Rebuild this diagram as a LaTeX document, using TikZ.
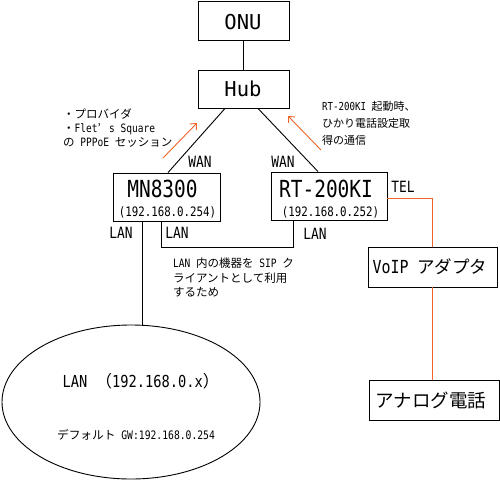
\documentclass[tikz,border=0pt]{standalone}
\usepackage{fontspec}
\setmainfont{Noto Sans CJK JP}
\newfontfamily\monoA{DejaVu Sans Mono}
\newfontfamily\monoB[FakeStretch=0.83]{DejaVu Sans Mono}
\usetikzlibrary{calc,arrows.meta,shapes.geometric}
\definecolor{orng}{RGB}{240,100,40}
\newcommand\m[1]{{\monoB #1}}
\begin{document}
\begin{tikzpicture}[x=1pt,y=-1pt,
  box/.style={draw, line width=0.9pt, inner sep=0pt},
  wire/.style={line width=0.9pt},
  owire/.style={draw=orng, line width=0.9pt},
  oarrow/.style={draw=orng, line width=0.9pt, -{Straight Barb[length=5pt,width=9pt]}},
  topt/.style={inner sep=0pt, font=\monoA\fontsize{20.5}{24}\selectfont},
  bigt/.style={inner sep=0pt, font=\monoB\fontsize{23.5}{26}\selectfont},
  ipt/.style={inner sep=0pt, font=\monoB\fontsize{13}{15}\selectfont},
  port/.style={inner sep=0pt, font=\monoB\fontsize{15.5}{18}\selectfont},
  midt/.style={inner sep=0pt, font=\fontsize{17.5}{20}\selectfont},
  smallt/.style={inner sep=0pt, align=left, font=\fontsize{11.5}{14.4}\selectfont}]
\path[use as bounding box] (0,0) rectangle (500,480);

% boxes
\node[box, minimum width=91pt, minimum height=39pt] (onu) at (243.5,21) {};
\node[topt] (onut) at (243,22) {ONU};
\node[box, minimum width=91pt, minimum height=38pt] (hub) at (243.5,89) {};
\node[topt] (hubt) at (243,88.5) {Hub};
\node[box, minimum width=107pt, minimum height=48pt] (mn) at (166.5,197) {};
\node[bigt] (mnt) at (162.5,188.5) {MN8300};
\node[ipt] (mnip) at (167.5,212) {(192.168.0.254)};
\node[box, minimum width=116pt, minimum height=48pt] (rt) at (329,196) {};
\node[bigt] (rtt) at (326,188.5) {RT-200KI};
\node[ipt] (rtip) at (330.5,212) {(192.168.0.252)};
\node[box, minimum width=129pt, minimum height=40pt] (voip) at (432.5,267) {};
\node[midt] (voipt) at (430,267) {{\monoB\fontsize{18}{20}\selectfont VoIP }アダプタ};
\node[box, minimum width=130pt, minimum height=40pt] (ana) at (434,400) {};
\node[midt, font=\fontsize{18.5}{20}\selectfont] (anat) at (431,400) {アナログ電話};
\node[draw, ellipse, line width=0.9pt, inner sep=0pt, minimum width=258pt, minimum height=154pt] (lan) at (131,402) {};
\node[midt, font=\fontsize{16.5}{20}\selectfont] (lant) at (141,381) {\m{LAN }（\m{192.168.0.x}）};
\node[smallt, font=\fontsize{11.7}{14}\selectfont] (gwt) at (136,435) {デフォルト\m{ GW:192.168.0.254}};

% connectors
\draw[wire] (onu) -- (hub);
\draw[wire] ($(hub.south)+(-18.5,0)$) -- ($(mn.north)+(1.5,0)$);
\draw[wire] ($(hub.south)+(14.5,0)$) -- ($(rt.north)+(-11,0)$);
\draw[wire] ($(mn.south)+(-24.5,0)$) -- ($(lan.north)+(11,0.3)$);
\coordinate (lk1) at ($(mn.south)+(-5,26)$);
\coordinate (lk2) at ($(rt.south)+(-36,27)$);
\draw[wire] ($(mn.south)+(-5,0)$) -- (lk1) -- (lk2) -- ($(rt.south)+(-36,0)$);
\draw[owire] ($(rt.east)+(0,2)$) -| (voip.north);
\draw[owire] (voip.south) -- (voip.south |- ana.north);

% port labels
\node[port] (w1) at (200,162) {WAN};
\node[port] (w2) at (283,162) {WAN};
\node[port] (l1) at (121,233) {LAN};
\node[port] (l2) at (177,233) {LAN};
\node[port] (l3) at (315,234) {LAN};
\node[port] (tel) at (403,187) {TEL};

% orange arrows
\coordinate (a1s) at (163,158);
\coordinate (a1e) at (197,123);
\draw[oarrow] (a1s) -- (a1e);
\coordinate (a2s) at (321,150);
\coordinate (a2e) at (288,116);
\draw[oarrow] (a2s) -- (a2e);

% notes
\node[smallt, anchor=west] (n1) at (63,128) {・プロバイダ\\・\m{Flet}\makebox[1em][l]{’}\m{s Square}\\の\m{ PPPoE }セッション};
\node[smallt, anchor=west, font=\fontsize{11}{16.7}\selectfont] (n2) at (322,123.5) {\m{RT-200KI }起動時、\\ひかり電話設定取\\得の通信};
\node[smallt, anchor=west] (n3) at (173,277.5) {\m{LAN }内の機器を\m{ SIP }ク\\ライアントとして利用\\するため};
\end{tikzpicture}
\end{document}
